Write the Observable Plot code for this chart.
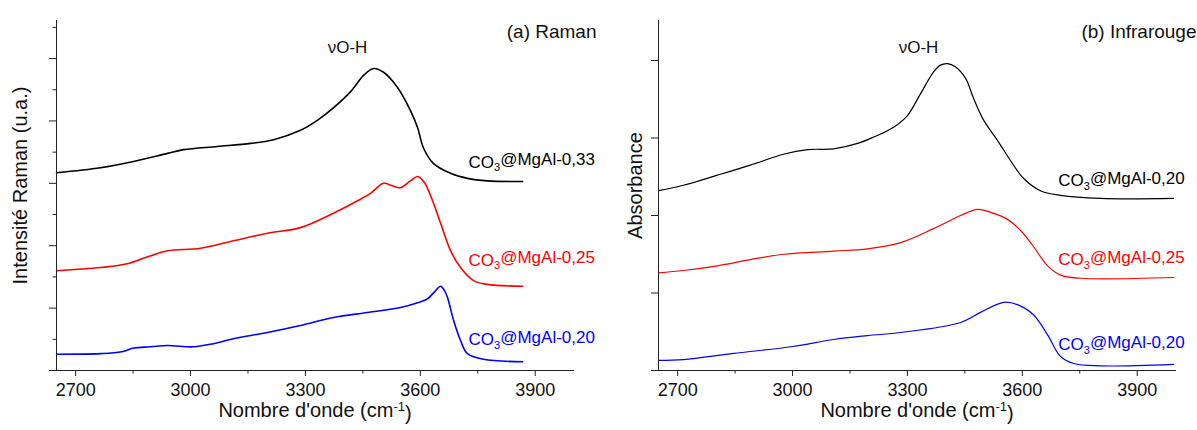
<!DOCTYPE html>
<html><head><meta charset="utf-8">
<script src="https://cdn.jsdelivr.net/npm/d3@7"></script>
<script src="https://cdn.jsdelivr.net/npm/@observablehq/plot@0.6"></script>
<style>
body{margin:0;background:#fff;}
#wrap{display:flex;width:1197px;height:430px;}
#wrap svg{font-family:"Liberation Sans",Arial,sans-serif;overflow:visible;}
</style></head><body><div id="wrap"></div>
<script>
// ---- data ----
const wavenumberTicks = [2700, 3000, 3300, 3600, 3900];
const wavenumberMinorTicks = [2850, 3150, 3450, 3750];
const sampleNames = ["CO3@MgAl-0,33", "CO3@MgAl-0,25", "CO3@MgAl-0,20"];
const irSampleNames = ["CO3@MgAl-0,20", "CO3@MgAl-0,25", "CO3@MgAl-0,20"];

// (a) Raman spectra
const ramanWave033 = [2650,2765,2851,2940,2982,3070,3157,3217,3287,3331,3373,3418,3452,3478,3504,3540,3574,3593,3608,3634,3679,3723,3775,3867];
const ramanInt033  = [3.17,3.25,3.35,3.48,3.54,3.59,3.64,3.70,3.85,4.01,4.21,4.47,4.73,4.84,4.78,4.54,4.17,3.89,3.57,3.32,3.16,3.08,3.04,3.03];
const ramanWave025 = [2650,2765,2835,2896,2940,3026,3112,3201,3287,3373,3436,3470,3504,3527,3548,3574,3593,3611,3632,3653,3679,3705,3739,3775,3867];
const ramanInt025  = [1.60,1.65,1.71,1.84,1.92,1.96,2.08,2.20,2.29,2.52,2.72,2.84,3.00,2.96,2.93,3.04,3.11,3.01,2.72,2.36,1.92,1.65,1.44,1.38,1.35];
const ramanWave020 = [2650,2765,2820,2851,2896,2940,3008,3060,3112,3201,3287,3373,3462,3548,3595,3619,3640,3653,3663,3671,3687,3705,3723,3765,3867];
const ramanInt020  = [0.26,0.27,0.30,0.36,0.38,0.40,0.38,0.43,0.51,0.61,0.72,0.85,0.93,1.01,1.09,1.15,1.28,1.35,1.28,1.17,0.80,0.48,0.27,0.18,0.14];

// (b) Infrared spectra
const irWaveA = [2650,2715,2804,2890,2976,3039,3107,3170,3211,3264,3300,3334,3368,3386,3405,3425,3452,3472,3499,3535,3569,3603,3647,3700,3804,3995];
const irAbsA  = [2.32,2.39,2.52,2.65,2.79,2.85,2.86,2.93,3.01,3.14,3.29,3.57,3.85,3.94,3.96,3.92,3.77,3.52,3.23,2.97,2.71,2.48,2.32,2.26,2.22,2.22];
const irWaveB = [2650,2715,2804,2890,2976,3107,3196,3282,3368,3439,3483,3517,3561,3595,3629,3666,3700,3752,3995];
const irAbsB  = [1.26,1.29,1.35,1.43,1.50,1.54,1.57,1.65,1.83,2.00,2.08,2.04,1.95,1.81,1.60,1.35,1.23,1.19,1.20];
const irWaveC = [2650,2715,2846,3000,3107,3196,3282,3439,3491,3551,3587,3629,3666,3700,3734,3804,3995];
const irAbsC  = [0.13,0.14,0.22,0.31,0.40,0.45,0.49,0.62,0.75,0.88,0.85,0.72,0.46,0.18,0.09,0.06,0.08];

// annotation anchors (wavenumber, intensity)
const ramanLabelWave = 3726, ramanLabelInt = [3.34, 1.77, 0.49];
const irLabelWave = 3694, irLabelAbs = [2.45, 1.43, 0.33];
const ramanPeakNote = {w: 3410, v: 5.18, text: "νO-H"};
const irPeakNote = {w: 3329, v: 4.17, text: "νO-H"};

const colors = ["#000000", "#ff0000", "#0000ff"];

function toRows(waves, vals, key) {
  return waves.map((w, i) => ({w, v: vals[i], key}));
}
const ramanRows = [
  ...toRows(ramanWave033, ramanInt033, 0),
  ...toRows(ramanWave025, ramanInt025, 1),
  ...toRows(ramanWave020, ramanInt020, 2)
];
const irRows = [
  ...toRows(irWaveA, irAbsA, 0),
  ...toRows(irWaveB, irAbsB, 1),
  ...toRows(irWaveC, irAbsC, 2)
];

function panel(o) {
  const labels = o.labelVals.map((v, i) => ({w: o.labelWave, v, key: i, name: o.names[i]}));
  const svg = Plot.plot({
    width: o.width, height: 430,
    marginLeft: o.marginLeft, marginRight: o.marginRight, marginTop: 20, marginBottom: 60,
    style: {fontFamily: '"Liberation Sans", Arial, sans-serif', background: "#fff", overflow: "visible"},
    x: {domain: [2650, 4000]},
    y: {domain: o.yDomain},
    marks: [
      Plot.line(o.rows, {x: "w", y: "v", z: "key", stroke: d => colors[d.key], strokeWidth: o.strokeWidth, curve: "catmull-rom"}),
      Plot.frame({anchor: "left", stroke: "#222"}),
      Plot.frame({anchor: "bottom", stroke: "#222"}),
      Plot.axisX(wavenumberTicks, {tickSize: 6, tickPadding: 7, fontSize: 18, tickFormat: d => String(d), label: null, stroke: "#222", color: "#111"}),
      Plot.axisX(wavenumberMinorTicks, {tickSize: 3.5, tickFormat: () => "", label: null, stroke: "#222"}),
      Plot.axisY(o.yMajor, {tickSize: o.majorSize, tickFormat: () => "", label: null, stroke: "#222"}),
      ...(o.yMinor.length ? [Plot.axisY(o.yMinor, {tickSize: 3.5, tickFormat: () => "", label: null, stroke: "#222"})] : []),
      Plot.text(labels, {x: "w", y: "v", text: "name", fill: d => colors[d.key], textAnchor: "start", fontSize: 17, className: "curve-label"}),
      Plot.text([o.peak], {x: "w", y: "v", text: "text", textAnchor: "middle", fontSize: 17, fill: "#111"}),
      Plot.text([o.title], {frameAnchor: "top-right", dx: o.titleDx, dy: 3.5, textAnchor: "end", fontSize: 19, fill: "#111"}),
      Plot.text(["Nombre d'onde (cm-1)"], {frameAnchor: "bottom", dy: 46, textAnchor: "middle", fontSize: 20, fill: "#111", className: "x-title"}),
      Plot.text([o.yLabel], {frameAnchor: "left", rotate: -90, dx: o.yLabelDx, dy: -10, textAnchor: "middle", lineAnchor: "middle", fontSize: 20, fill: "#111"})
    ]
  });
  // subscript / superscript as real text
  d3.select(svg).selectAll(".curve-label text").each(function() {
    const t = this.textContent;
    const rest = t.slice(3);
    const sel = d3.select(this).text(null);
    sel.append("tspan").text("CO");
    sel.append("tspan").attr("dy", "0.35em").attr("font-size", "11").text("3");
    sel.append("tspan").attr("dy", "-0.35em").text(rest);
  });
  d3.select(svg).selectAll(".x-title text").each(function() {
    const sel = d3.select(this).text(null);
    sel.append("tspan").text("Nombre d'onde (cm");
    sel.append("tspan").attr("dy", "-0.45em").attr("font-size", "13").text("-1");
    sel.append("tspan").attr("dy", "0.45em").text(")");
  });
  return svg;
}

const wrap = document.getElementById("wrap");
wrap.append(panel({
  rows: ramanRows, width: 598, marginLeft: 56, marginRight: 25,
  yDomain: [0, 5.61], yMajor: [0, 1, 2, 3, 4, 5], yMinor: [0.5, 1.5, 2.5, 3.5, 4.5, 5.5], majorSize: 7,
  names: sampleNames, labelWave: ramanLabelWave, labelVals: ramanLabelInt,
  peak: ramanPeakNote, title: "(a) Raman", titleDx: 23,
  yLabel: "Intensité Raman (u.a.)", yLabelDx: -36, strokeWidth: 1.6
}));
wrap.append(panel({
  rows: irRows, width: 599, marginLeft: 60, marginRight: 22,
  yDomain: [0, 4.516], yMajor: [0, 1, 2, 3, 4], yMinor: [], majorSize: 7,
  names: irSampleNames, labelWave: irLabelWave, labelVals: irLabelAbs,
  peak: irPeakNote, title: "(b) Infrarouge", titleDx: 21,
  yLabel: "Absorbance", yLabelDx: -23, strokeWidth: 1.2
}));
</script></body></html>
